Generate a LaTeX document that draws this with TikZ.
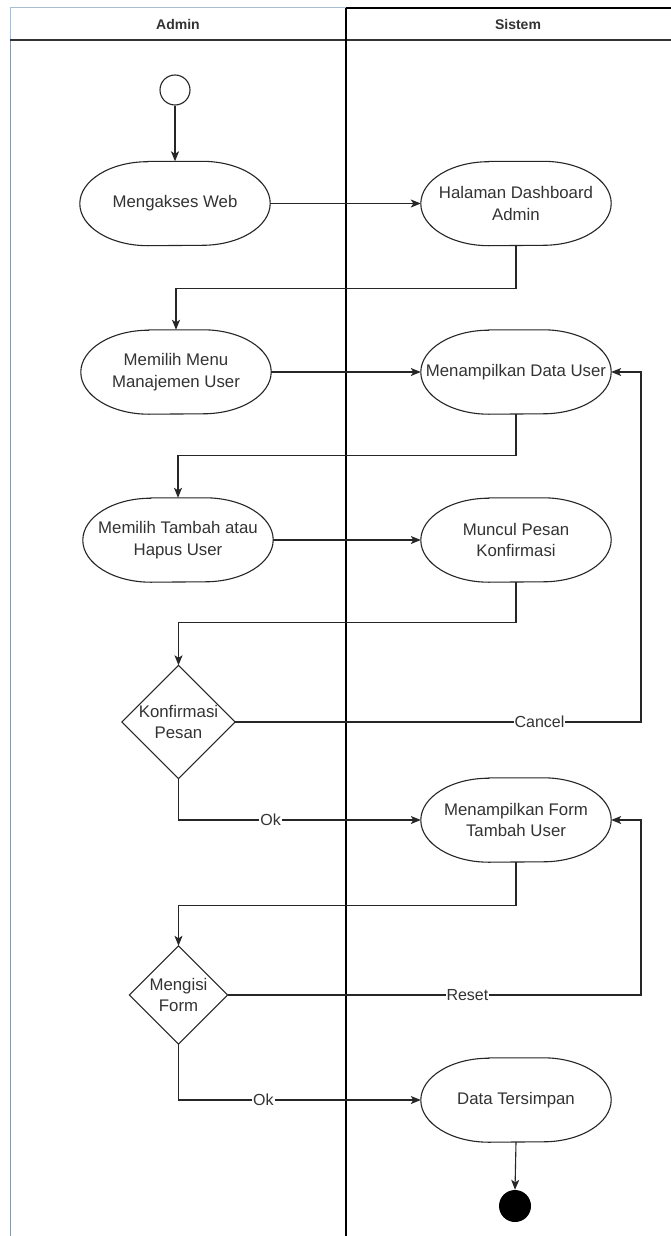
\documentclass[tikz,border=0pt]{standalone}
\usepackage{fontspec}
\setmainfont{Liberation Sans}
\usetikzlibrary{arrows.meta,calc}
\definecolor{txt}{HTML}{333333}
\definecolor{lanebl}{HTML}{A8BDD3}
\definecolor{lanegr}{HTML}{8A97A6}
\tikzset{
  act/.style={minimum width=190pt,minimum height=84pt,inner sep=0pt,align=center,text=txt,font=\fontsize{16.8}{21.5}\selectfont},
  dec/.style={minimum width=#1,minimum height=#1,inner sep=0pt,align=center,text=txt,font=\fontsize{16.8}{21.5}\selectfont},
  shapeline/.style={draw=black!85,line width=1.1pt},
  arr/.style={draw=black!85,line width=1.1pt,-{Stealth[length=10pt,width=8pt,inset=2.5pt]}},
  lbl/.style={fill=white,inner sep=1pt,text=txt,font=\fontsize{16}{19}\selectfont},
  hdr/.style={text=txt,font=\bfseries\fontsize{14}{17}\selectfont}
}
\begin{document}
\begin{tikzpicture}[x=1pt,y=-1pt]
\useasboundingbox[fill=white] (0,0) rectangle (670,1236);
% swimlanes
\draw[lanebl,line width=1pt] (10,40) -- (10,8) -- (346,8);
\draw[lanegr,line width=1pt] (10,40) -- (10,1236);
\draw[black!80,line width=1.2pt] (10,40) -- (690,40);
\draw[black,line width=1.4pt] (346,8) -- (690,8);
\draw[black,line width=1.3pt] (346,8) -- (346,1236);
\node[hdr] (hA) at (178,24) {Admin};
\node[hdr] (hS) at (518,24) {Sistem};
% start / end
\node[draw=black!85,line width=1.1pt,circle,minimum size=30pt,inner sep=0pt] (start) at (175,90) {};
\node[fill=black,circle,minimum size=32pt,inner sep=0pt] (end) at (515,1206) {};
% activities
\node[act] (a1) at (175,203.5) {Mengakses Web};
\node[act] (s1) at (516,203.5) {Halaman Dashboard\\Admin};
\node[act] (a2) at (176,372) {Memilih Menu\\Manajemen User};
\node[act] (s2) at (516,372) {Menampilkan Data User};
\node[act] (a3) at (178,540) {Memilih Tambah atau\\Hapus User};
\node[act] (s3) at (516,540) {Muncul Pesan\\Konfirmasi};
\node[act] (s4) at (516,820) {Menampilkan Form\\Tambah User};
\node[act] (s5) at (516,1100) {Data Tersimpan};
\foreach \n in {a1,s1,a2,s2,a3,s3,s4,s5}{
  \draw[shapeline] ([xshift=68pt]\n.north west) -- ([xshift=-68pt]\n.north east)
    arc[start angle=90,end angle=0,x radius=68pt,y radius=42pt]
    arc[start angle=0,end angle=-90,x radius=68pt,y radius=42pt]
    -- ([xshift=68pt]\n.south west)
    arc[start angle=270,end angle=180,x radius=68pt,y radius=42pt]
    arc[start angle=180,end angle=90,x radius=68pt,y radius=42pt] -- cycle;
}
% decisions
\node[dec=113pt] (d1) at (178.5,722) {Konfirmasi\\Pesan};
\node[dec=98pt] (d2) at (178.5,995) {Mengisi\\Form};
\foreach \n in {d1,d2}{
  \draw[shapeline] (\n.north) -- (\n.east) -- (\n.south) -- (\n.west) -- cycle;
}
\coordinate (rx) at (641,0);
% connectors
\draw[arr] (start.south) -- (a1.north);
\draw[arr] (a1.east) -- (s1.west);
\draw[arr] (s1.south) -- ++(0,42.5) -| (a2.north);
\draw[arr] (a2.east) -- (s2.west);
\draw[arr] (s2.south) -- ++(0,41) -| (a3.north);
\draw[arr] (a3.east) -- (s3.west);
\draw[arr] (s3.south) -- ++(0,40) -| (d1.north);
\draw[arr] (d1.east) -- node[lbl,pos=0.75]{Cancel} (d1.east -| rx) |- (s2.east);
\draw[arr] (d1.south) |- node[lbl,pos=0.69]{Ok} (s4.west);
\draw[arr] (s4.south) -- ++(0,43) -| (d2.north);
\draw[arr] (d2.east) -- node[lbl,pos=0.58]{Reset} (d2.east -| rx) |- (s4.east);
\draw[arr] (d2.south) |- node[lbl,pos=0.675]{Ok} (s5.west);
\draw[arr] (s5.south) -- (end.north);
\end{tikzpicture}
\end{document}
